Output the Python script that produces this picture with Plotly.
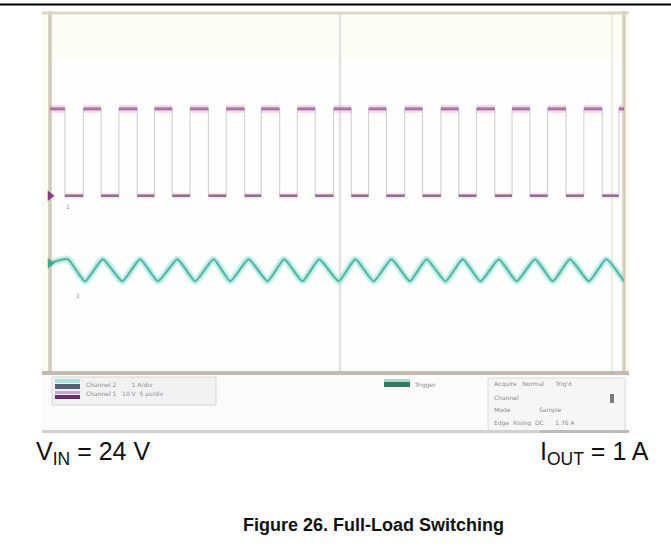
import plotly.graph_objects as go

W, H = 671, 555

# ---- data (in scope divisions: x 0..10, y -4..4) ----
ch1_rise = [0.58, 1.20, 1.82, 2.44, 3.07, 3.68, 4.31, 4.94, 5.55, 6.18, 6.81, 7.43, 8.05, 8.67, 9.30, 9.91]
ch1_fall = [0.26, 0.89, 1.52, 2.13, 2.76, 3.39, 4.00, 4.62, 5.25, 5.86, 6.49, 7.12, 7.75, 8.36, 8.99, 9.62]
ch1_high = 1.87
ch1_low = -0.06

ch2_peak_x = [0.31, 0.92, 1.57, 2.22, 2.85, 3.46, 4.08, 4.69, 5.32, 5.95, 6.56, 7.19, 7.82, 8.45, 9.06, 9.69]
ch2_trough_x = [0.61, 1.26, 1.88, 2.53, 3.14, 3.79, 4.40, 5.03, 5.64, 6.27, 6.89, 7.50, 8.13, 8.76, 9.39, 10.0]
ch2_start = -1.56
ch2_peak = -1.47
ch2_trough = -1.96

vin_label = "V<sub>IN</sub> = 24 V"
iout_label = "I<sub>OUT</sub> = 1 A"
title_text = "<b>Figure 26. Full-Load Switching</b>"
legend_rows = ["Channel 2        1 A/div", "Channel 1   10 V  5 µs/div"]
status_rows = ["Acquire   Normal      Trig'd", "Channel", "Mode               Sample", "Edge  Rising  DC      1.76 A"]

# ---- build traces from data ----
ch1_x, ch1_y = [0.0], [ch1_high]
events = sorted([(t, 'f') for t in ch1_fall] + [(t, 'r') for t in ch1_rise])
level = ch1_high
for t, kind in events:
    ch1_x.append(t); ch1_y.append(level)
    level = ch1_low if kind == 'f' else ch1_high
    ch1_x.append(t); ch1_y.append(level)
ch1_x.append(10.0); ch1_y.append(level)

hi_x, hi_y, lo_x, lo_y = [], [], [], []
for i in range(len(ch1_x) - 1):
    if ch1_x[i] != ch1_x[i + 1] and ch1_y[i] == ch1_y[i + 1]:
        if ch1_y[i] == ch1_high:
            hi_x += [ch1_x[i], ch1_x[i + 1], None]; hi_y += [ch1_high, ch1_high, None]
        else:
            lo_x += [ch1_x[i], ch1_x[i + 1], None]; lo_y += [ch1_low, ch1_low, None]

pts = [(0.0, ch2_start)] + [(x, ch2_peak) for x in ch2_peak_x] + [(x, ch2_trough) for x in ch2_trough_x]
pts.sort()
ch2_x = [p[0] for p in pts]
ch2_y = [p[1] for p in pts]

fig = go.Figure()

fig.add_trace(go.Scatter(x=ch1_x, y=ch1_y, mode='lines', line=dict(color='#d6d2da', width=1.2), hoverinfo='skip'))
fig.add_trace(go.Scatter(x=hi_x, y=hi_y, mode='lines', line=dict(color='rgba(240,170,230,0.45)', width=8), hoverinfo='skip'))
fig.add_trace(go.Scatter(x=hi_x, y=hi_y, mode='lines', line=dict(color='#a8769f', width=3), hoverinfo='skip'))
fig.add_trace(go.Scatter(x=lo_x, y=lo_y, mode='lines', line=dict(color='rgba(240,180,230,0.35)', width=6), hoverinfo='skip'))
fig.add_trace(go.Scatter(x=lo_x, y=lo_y, mode='lines', line=dict(color='#8d6d8a', width=2.5), hoverinfo='skip'))

fig.add_trace(go.Scatter(x=ch2_x, y=ch2_y, mode='lines', line=dict(color='rgba(120,230,210,0.45)', width=7, shape='spline', smoothing=0.5), hoverinfo='skip'))
fig.add_trace(go.Scatter(x=ch2_x, y=ch2_y, mode='lines', line=dict(color='#5fb8a8', width=2.5, shape='spline', smoothing=0.5), hoverinfo='skip'))

fig.add_trace(go.Scatter(x=[0.0], y=[ch1_low], mode='markers', marker=dict(symbol='triangle-right', size=9, color='#8a3a86'), cliponaxis=False, hoverinfo='skip'))
fig.add_trace(go.Scatter(x=[0.0], y=[ch2_start], mode='markers', marker=dict(symbol='triangle-right', size=9, color='#3fa88e'), cliponaxis=False, hoverinfo='skip'))


def PX(x):
    return x / W


def PY(y):
    return 1 - y / H


shapes = []
def rect(x0, y0, x1, y1, fill, line=None, lw=0, layer='below'):
    shapes.append(dict(type='rect', xref='paper', yref='paper', x0=PX(x0), x1=PX(x1), y0=PY(y1), y1=PY(y0),
                       fillcolor=fill, line=dict(color=line or fill, width=lw), layer=layer))

def hline(x0, x1, y, color, w, layer='below'):
    shapes.append(dict(type='line', xref='paper', yref='paper', x0=PX(x0), x1=PX(x1), y0=PY(y), y1=PY(y),
                       line=dict(color=color, width=w), layer=layer))

def vline(x, y0, y1, color, w, layer='below'):
    shapes.append(dict(type='line', xref='paper', yref='paper', x0=PX(x), x1=PX(x), y0=PY(y0), y1=PY(y1),
                       line=dict(color=color, width=w), layer=layer))

hline(0, W, 4.5, '#000000', 2)
rect(42, 11, 629, 434, '#fdfcf3')
rect(52, 15, 621, 371, '#fefefd')
rect(52, 15, 621, 60, '#fdfdf6')
vline(340, 13, 372, '#e3e3e0', 2.5)
vline(612, 13, 372, '#eeeee6', 2)
vline(50, 11, 374, '#cfc9b6', 3.5)
hline(42, 629, 13, '#dcd8c4', 3)
vline(624, 11, 374, '#d6d2bc', 3.5)
hline(42, 629, 373, '#c5bab2', 4)
rect(42, 375, 629, 430, '#fbfbfb')
rect(52, 377, 216, 405, '#f2f2f4', '#d6d6d8', 1)
rect(55, 379, 80, 383, '#a6e2d8')
rect(55, 384, 80, 389, '#546273')
rect(55, 391, 80, 394, '#c8a6d6')
rect(55, 395, 80, 399, '#6a2a6c')
rect(384, 382, 410, 387, '#2f7d5e')
rect(384, 379, 410, 382, '#a8dcc4')
rect(488, 378, 625, 432, '#f6f6f6', '#dcdcdc', 1)
rect(610, 394, 614, 403, '#7a7a7a')
hline(42, 629, 431.5, '#d2d2d2', 3)
hline(540, 629, 431.5, '#bcbcbc', 3)


def ann(text, x, y, xanchor, size, family='Liberation Sans, Arial', color='#111111'):
    return dict(text=text, xref='paper', yref='paper', x=PX(x), y=PY(y), xanchor=xanchor, yanchor='middle',
                showarrow=False, font=dict(family=family, size=size, color=color))

annotations = [
    ann(vin_label, 34, 453, 'left', 25),
    ann(iout_label, 651, 453, 'right', 25),
    ann(title_text, 374, 525, 'center', 18),
    ann('1', 64, 206, 'left', 6, 'DejaVu Sans', '#a0a0a0'),
    ann('2', 74, 295, 'left', 6, 'DejaVu Sans', '#a0a0a0'),
]
for i, t in enumerate(legend_rows):
    annotations.append(ann(t, 84, 384 + 10 * i, 'left', 6, 'DejaVu Sans', '#8c8c8c'))
annotations.append(ann('Trigger', 412, 385, 'left', 6, 'DejaVu Sans', '#8c8c8c'))
for i, t in enumerate(status_rows):
    annotations.append(ann(t, 492, 384 + 13 * i, 'left', 6, 'DejaVu Sans', '#8c8c8c'))

fig.update_layout(
    width=W, height=H, margin=dict(l=0, r=0, t=0, b=0),
    paper_bgcolor='white', plot_bgcolor='rgba(0,0,0,0)',
    showlegend=False, shapes=shapes, annotations=annotations,
    xaxis=dict(domain=[PX(50), PX(624)], range=[0, 10], visible=False, fixedrange=True),
    yaxis=dict(domain=[PY(373), PY(13)], range=[-4, 4], visible=False, fixedrange=True),
)

fig.write_html("out.html", config={'displayModeBar': False},
               post_script="document.body.style.margin='0';document.body.style.padding='0';")
